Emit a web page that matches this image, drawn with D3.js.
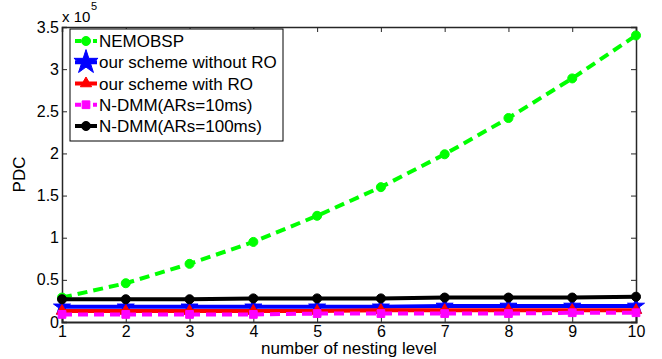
<!DOCTYPE html>
<html>
<head>
<meta charset="utf-8">
<script src="https://cdn.jsdelivr.net/npm/d3@7"></script>
<style>
  body { margin: 0; background: #fff; }
  text { font-family: "Liberation Sans", Arial, Helvetica, sans-serif; }
</style>
</head>
<body>
<svg id="chart" width="662" height="359"></svg>
<script>
// data (values in units of 1e5)
const levels = [1, 2, 3, 4, 5, 6, 7, 8, 9, 10];
const nemobsp = [0.29, 0.46, 0.69, 0.95, 1.26, 1.60, 1.99, 2.42, 2.89, 3.40];
const withoutRO = [0.18, 0.18, 0.18, 0.18, 0.18, 0.18, 0.19, 0.19, 0.19, 0.19];
const withRO = [0.13, 0.13, 0.13, 0.13, 0.13, 0.14, 0.14, 0.14, 0.14, 0.14];
const ndmm10 = [0.09, 0.09, 0.09, 0.09, 0.10, 0.10, 0.10, 0.10, 0.11, 0.11];
const ndmm100 = [0.27, 0.27, 0.27, 0.28, 0.28, 0.28, 0.29, 0.29, 0.29, 0.30];
const yTicks = [0, 0.5, 1, 1.5, 2, 2.5, 3, 3.5];

const series = [
  {name: 'NEMOBSP', values: nemobsp, color: '#00ff00', dash: '10,6', marker: 'circle'},
  {name: 'our scheme without RO', values: withoutRO, color: '#0000ff', dash: null, marker: 'star'},
  {name: 'our scheme with RO', values: withRO, color: '#ff0000', dash: null, marker: 'triangle'},
  {name: 'N-DMM(ARs=10ms)', values: ndmm10, color: '#ff00ff', dash: '10,6', marker: 'square'},
  {name: 'N-DMM(ARs=100ms)', values: ndmm100, color: '#000000', dash: null, marker: 'circle'}
];

const margin = {top: 27, right: 26, bottom: 37, left: 62};
const width = 662 - margin.left - margin.right;
const height = 359 - margin.top - margin.bottom;

const svg = d3.select('#chart')
  .append('g')
  .attr('transform', 'translate(' + margin.left + ',' + margin.top + ')');

const x = d3.scaleLinear().domain([1, 10]).range([0, width]);
const y = d3.scaleLinear().domain([0, 3.5]).range([height, 0]);

const symbolFor = {
  circle: d3.symbol().type(d3.symbolCircle).size(64),
  star: d3.symbol().type(d3.symbolStar).size(90),
  triangle: d3.symbol().type(d3.symbolTriangle).size(55),
  square: d3.symbol().type(d3.symbolSquare).size(60)
};

// axes (ticks inward, box)
const axisColor = '#262626';
const tickLen = 5;
const bottomAxis = svg.append('g')
  .attr('transform', 'translate(0,' + height + ')')
  .call(d3.axisBottom(x).tickValues(levels).tickSize(-tickLen).tickPadding(4).tickFormat(d3.format('d')));
const leftAxis = svg.append('g')
  .call(d3.axisLeft(y).tickValues(yTicks).tickSize(-tickLen).tickPadding(3).tickFormat(d => d));
const topAxis = svg.append('g')
  .call(d3.axisTop(x).tickValues(levels).tickSize(-tickLen).tickFormat(''));
const rightAxis = svg.append('g')
  .attr('transform', 'translate(' + width + ',0)')
  .call(d3.axisRight(y).tickValues(yTicks).tickSize(-tickLen).tickFormat(''));

[bottomAxis, leftAxis, topAxis, rightAxis].forEach(a => {
  a.select('.domain').attr('stroke', axisColor).attr('stroke-width', 1.5);
  a.selectAll('.tick line').attr('stroke', axisColor);
  a.selectAll('.tick text').attr('fill', '#000').style('font-size', '16px');
});
bottomAxis.select('.domain').attr('stroke-width', 2);

// exponent label
svg.append('text')
  .attr('x', 0)
  .attr('y', -5)
  .style('font-size', '15px')
  .text('x 10');
svg.append('text')
  .attr('x', 29)
  .attr('y', -17)
  .style('font-size', '11px')
  .text('5');

// axis titles
svg.append('text')
  .attr('x', width / 2)
  .attr('y', height + 32)
  .attr('text-anchor', 'middle')
  .style('font-size', '17px')
  .text('number of nesting level');
svg.append('text')
  .attr('transform', 'translate(' + (-37) + ',' + (height / 2) + ') rotate(-90)')
  .attr('text-anchor', 'middle')
  .style('font-size', '17px')
  .text('PDC');

// lines
const line = d3.line()
  .x((d, i) => x(levels[i]))
  .y(d => y(d));

series.forEach(s => {
  svg.append('path')
    .datum(s.values)
    .attr('fill', 'none')
    .attr('stroke', s.color)
    .attr('stroke-width', 4)
    .attr('stroke-dasharray', s.dash)
    .attr('d', line);
  svg.selectAll(null)
    .data(s.values)
    .enter()
    .append('path')
    .attr('transform', (d, i) => 'translate(' + x(levels[i]) + ',' + y(d) + ')')
    .attr('d', symbolFor[s.marker])
    .attr('fill', s.color)
    .attr('stroke', s.color)
    .attr('stroke-width', 1);
});

// legend
const legend = svg.append('g')
  .attr('transform', 'translate(8,2)');
legend.append('rect')
  .attr('width', 213)
  .attr('height', 112)
  .attr('fill', '#fff')
  .attr('stroke', '#000')
  .attr('stroke-width', 1);
series.forEach((s, i) => {
  const ly = 12 + i * 21.25;
  legend.append('line')
    .attr('x1', 5).attr('x2', 27)
    .attr('y1', ly).attr('y2', ly)
    .attr('stroke', s.color)
    .attr('stroke-width', 4)
    .attr('stroke-dasharray', s.dash ? '6,3' : null);
  legend.append('path')
    .attr('transform', 'translate(16,' + ly + ')')
    .attr('d', s.marker === 'star' ? d3.symbol().type(d3.symbolStar).size(180)() : symbolFor[s.marker]())
    .attr('fill', s.color)
    .attr('stroke', s.color);
  legend.append('text')
    .attr('x', 29)
    .attr('y', ly + 6)
    .style('font-size', '17px')
    .text(s.name);
});
</script>
</body>
</html>
